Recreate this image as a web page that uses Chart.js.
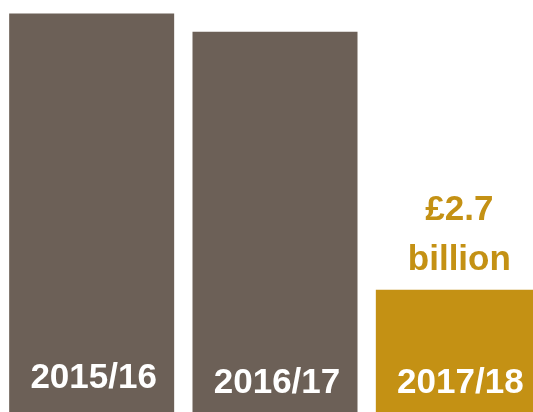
<!DOCTYPE html>
<html>
<head>
<meta charset="utf-8">
<script src="https://cdn.jsdelivr.net/npm/chart.js@4"></script>
<style>
  html, body { margin: 0; padding: 0; background: #fff; overflow: hidden; }
  #wrap { width: 550px; height: 412px; }
</style>
</head>
<body>
<div id="wrap"><canvas id="spendChart"></canvas></div>
<script>
// Yearly totals, £ billion
const years = ['2015/16', '2016/17', '2017/18'];
const totals = [8.8, 8.4, 2.7];
const barColors = ['#6c6057', '#6c6057', '#c49114'];

// Writes the year inside each bar and the value above the latest one
const barLabels = {
  id: 'barLabels',
  afterDatasetsDraw(chart) {
    const ctx = chart.ctx;
    const meta = chart.getDatasetMeta(0);
    const baselines = [388, 393, 393];
    ctx.save();
    ctx.textAlign = 'center';
    ctx.textBaseline = 'alphabetic';
    ctx.font = 'bold 35px "Liberation Sans", Arial, sans-serif';
    meta.data.forEach((bar, i) => {
      ctx.fillStyle = '#ffffff';
      ctx.fillText(years[i], bar.x + 2, baselines[i]);
      if (i === totals.length - 1) {
        ctx.fillStyle = barColors[i];
        ctx.fillText('£' + totals[i].toFixed(1), bar.x + 1, bar.y - 70);
        ctx.fillText('billion', bar.x + 1, bar.y - 20);
      }
    });
    ctx.restore();
  }
};

const ctx = document.getElementById('spendChart').getContext('2d');
new Chart(ctx, {
  type: 'bar',
  data: {
    labels: years,
    datasets: [{
      data: totals,
      backgroundColor: barColors,
      borderWidth: 0,
      barPercentage: 0.9,
      categoryPercentage: 1.0
    }]
  },
  options: {
    responsive: true,
    maintainAspectRatio: false,
    animation: false,
    layout: { padding: 0 },
    plugins: {
      legend: { display: false },
      tooltip: { enabled: false }
    },
    scales: {
      x: { display: false },
      y: { display: false, min: 0, max: 9.1 }
    }
  },
  plugins: [barLabels]
});
</script>
</body>
</html>
